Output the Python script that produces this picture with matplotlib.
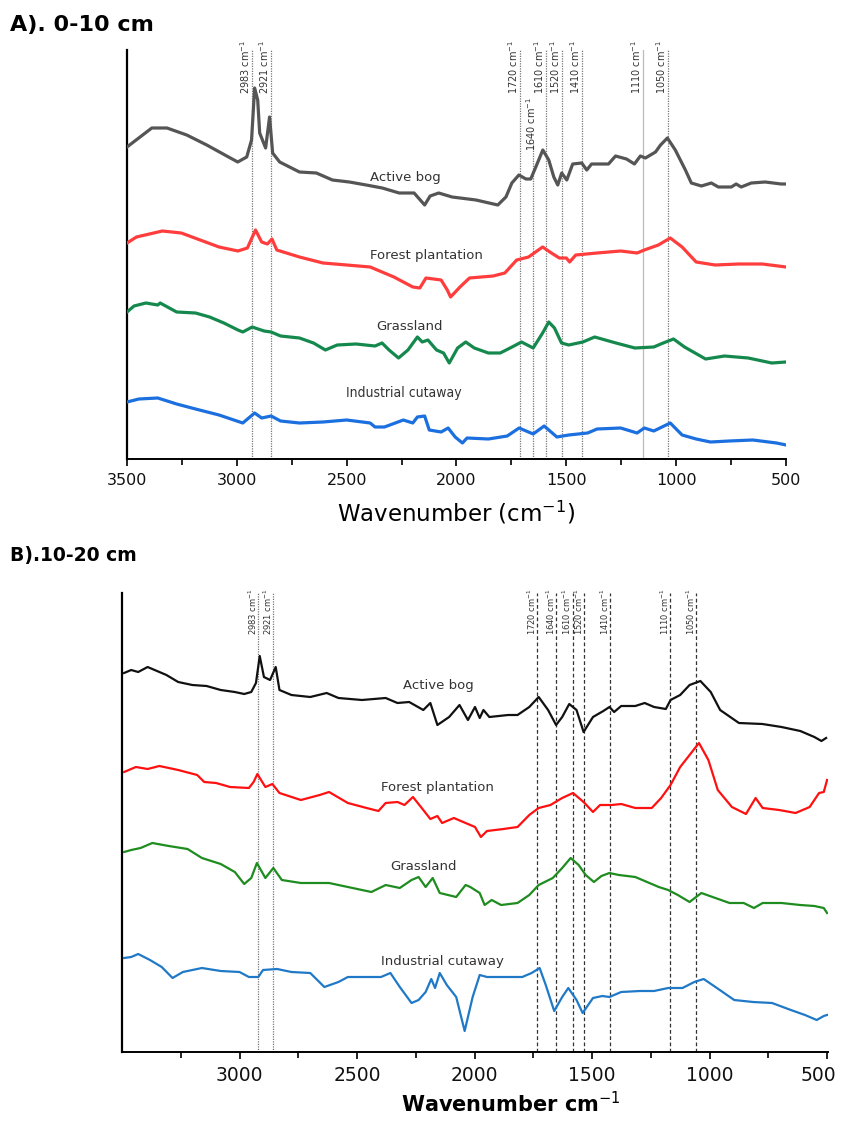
"""
plot.py
FTIR spectra of peat soils under four land uses, two depths (0-10 cm, 10-20 cm).
Curves are offset vertically; dotted/dashed guides mark the assigned bands.
"""

import matplotlib
matplotlib.use('Agg')
import matplotlib.pyplot as plt
from matplotlib.transforms import blended_transform_factory, ScaledTranslation

plt.rcParams['font.family'] = ['DejaVu Sans']
plt.rcParams['mathtext.fontset'] = 'dejavusans'

# ── Data: panel A (0-10 cm), offset absorbance (a.u.) ───────────────────────

A_BOG_WN = [3500, 3387, 3318, 3228, 3137, 3046, 2996, 2955, 2933, 2919, 2905, 2896,
            2869, 2851, 2837, 2805, 2715, 2638, 2565, 2488, 2411, 2338, 2261, 2193,
            2145, 2120, 2081, 2020, 1911, 1812, 1775, 1748, 1716, 1684, 1662, 1639,
            1607, 1580, 1557, 1539, 1521, 1498, 1471, 1430, 1407, 1385, 1308, 1276,
            1226, 1190, 1163, 1140, 1094, 1071, 1040, 1004, 958, 931, 885, 840, 808,
            749, 727, 704, 658, 595, 522, 500]
A_BOG_Y = [3.12, 3.31, 3.31, 3.24, 3.14, 3.03, 2.97, 3.02, 3.19, 3.71, 3.59, 3.26,
           3.11, 3.42, 3.06, 2.97, 2.87, 2.86, 2.79, 2.77, 2.74, 2.71, 2.66, 2.66,
           2.54, 2.63, 2.66, 2.62, 2.59, 2.54, 2.62, 2.76, 2.84, 2.80, 2.80, 2.92,
           3.09, 2.99, 2.82, 2.74, 2.86, 2.79, 2.95, 2.96, 2.89, 2.95, 2.95, 3.03,
           3.00, 2.95, 3.03, 3.01, 3.07, 3.14, 3.21, 3.09, 2.89, 2.76, 2.73, 2.76, 2.72,
           2.72, 2.75, 2.72, 2.76, 2.77, 2.75, 2.75]

A_FOREST_WN = [3500, 3457, 3339, 3253, 3167, 3081, 2995, 2952, 2915, 2887, 2861, 2840,
               2818, 2715, 2608, 2500, 2393, 2285, 2199, 2167, 2139, 2070, 2042, 2027,
               1984, 1941, 1833, 1780, 1726, 1672, 1608, 1575, 1532, 1500, 1485, 1457,
               1360, 1253, 1178, 1145, 1081, 1027, 973, 909, 823, 715, 608, 500]
A_FOREST_Y = [2.16, 2.22, 2.28, 2.26, 2.19, 2.12, 2.08, 2.11, 2.29, 2.17, 2.15, 2.20,
              2.09, 2.02, 1.96, 1.94, 1.92, 1.82, 1.72, 1.71, 1.81, 1.79, 1.69, 1.62,
              1.72, 1.81, 1.83, 1.86, 1.99, 2.02, 2.12, 2.07, 2.01, 2.01, 1.97, 2.04,
              2.06, 2.08, 2.06, 2.09, 2.14, 2.21, 2.12, 1.97, 1.94, 1.95, 1.95, 1.92]

A_GRASS_WN = [3500, 3468, 3414, 3360, 3349, 3274, 3188, 3124, 3059, 2995, 2973, 2930,
              2876, 2844, 2801, 2715, 2651, 2597, 2543, 2457, 2371, 2339, 2307, 2264,
              2221, 2178, 2156, 2130, 2091, 2059, 2033, 1995, 1958, 1919, 1855, 1801,
              1747, 1704, 1651, 1608, 1580, 1554, 1522, 1489, 1425, 1371, 1274, 1188,
              1102, 1059, 1012, 962, 866, 780, 672, 565, 500]
A_GRASS_Y = [1.47, 1.53, 1.56, 1.54, 1.56, 1.47, 1.46, 1.42, 1.36, 1.29, 1.27, 1.32,
             1.28, 1.27, 1.23, 1.21, 1.16, 1.09, 1.14, 1.15, 1.13, 1.16, 1.09, 1.01,
             1.09, 1.22, 1.17, 1.19, 1.09, 1.06, 0.96, 1.11, 1.17, 1.11, 1.06, 1.06,
             1.12, 1.17, 1.11, 1.26, 1.37, 1.31, 1.16, 1.14, 1.17, 1.22, 1.16, 1.11,
             1.12, 1.16, 1.20, 1.12, 1.00, 1.03, 1.01, 0.96, 0.97]

A_CUT_WN = [3500, 3446, 3360, 3274, 3188, 3081, 2973, 2919, 2887, 2844, 2801, 2715,
            2608, 2500, 2393, 2371, 2328, 2242, 2199, 2178, 2145, 2124, 2070, 2038,
            2006, 1973, 1952, 1855, 1769, 1715, 1651, 1601, 1543, 1489, 1403, 1360,
            1253, 1178, 1145, 1102, 1027, 973, 909, 844, 758, 651, 543, 500]
A_CUT_Y = [0.57, 0.60, 0.61, 0.55, 0.50, 0.44, 0.36, 0.46, 0.41, 0.43, 0.38, 0.36,
           0.37, 0.39, 0.36, 0.32, 0.32, 0.39, 0.36, 0.42, 0.43, 0.29, 0.27, 0.31,
           0.22, 0.16, 0.21, 0.20, 0.23, 0.31, 0.25, 0.33, 0.22, 0.24, 0.26, 0.30,
           0.31, 0.26, 0.31, 0.28, 0.36, 0.24, 0.20, 0.17, 0.18, 0.19, 0.16, 0.14]

# ── Data: panel B (10-20 cm) ─────────────────────────────────────────────────

B_BOG_WN = [3491, 3461, 3431, 3391, 3361, 3311, 3261, 3201, 3140, 3080, 3020, 2980,
            2950, 2930, 2914, 2896, 2870, 2846, 2830, 2779, 2699, 2629, 2579, 2479,
            2378, 2328, 2278, 2218, 2188, 2158, 2108, 2064, 2028, 1998, 1978, 1962,
            1937, 1857, 1817, 1767, 1727, 1687, 1653, 1627, 1597, 1566, 1536, 1496,
            1452, 1426, 1406, 1376, 1316, 1276, 1236, 1186, 1166, 1125, 1085, 1039,
            995, 955, 875, 775, 694, 614, 554, 524, 504]
B_BOG_Y = [3.97, 4.00, 3.98, 4.03, 4.00, 3.95, 3.88, 3.85, 3.84, 3.80, 3.78, 3.76,
           3.78, 3.87, 4.14, 3.93, 3.90, 4.03, 3.80, 3.75, 3.73, 3.77, 3.72, 3.70,
           3.72, 3.67, 3.68, 3.60, 3.67, 3.45, 3.53, 3.65, 3.50, 3.63, 3.52, 3.60,
           3.53, 3.55, 3.55, 3.63, 3.73, 3.60, 3.45, 3.53, 3.66, 3.60, 3.38, 3.53,
           3.59, 3.63, 3.58, 3.64, 3.64, 3.67, 3.63, 3.61, 3.70, 3.75, 3.85, 3.89,
           3.78, 3.60, 3.47, 3.46, 3.43, 3.39, 3.33, 3.29, 3.32]

B_FOREST_WN = [3491, 3441, 3391, 3341, 3261, 3180, 3150, 3100, 3040, 2960, 2940, 2924,
               2890, 2860, 2830, 2739, 2659, 2619, 2539, 2459, 2409, 2378, 2328, 2298,
               2262, 2228, 2188, 2158, 2138, 2088, 2038, 1998, 1973, 1947, 1877, 1817,
               1767, 1727, 1677, 1627, 1581, 1536, 1496, 1466, 1416, 1376, 1316, 1246,
               1206, 1166, 1125, 1085, 1045, 1005, 965, 905, 845, 804, 774, 704, 634,
               574, 534, 514, 500]
B_FOREST_Y = [2.98, 3.03, 3.01, 3.04, 3.00, 2.95, 2.88, 2.87, 2.83, 2.82, 2.88, 2.96,
              2.83, 2.86, 2.77, 2.70, 2.75, 2.78, 2.67, 2.62, 2.59, 2.67, 2.68, 2.65,
              2.73, 2.63, 2.51, 2.54, 2.47, 2.52, 2.47, 2.43, 2.33, 2.39, 2.41, 2.43,
              2.55, 2.62, 2.65, 2.72, 2.77, 2.68, 2.58, 2.65, 2.65, 2.66, 2.62, 2.62,
              2.72, 2.85, 3.03, 3.15, 3.27, 3.10, 2.80, 2.63, 2.56, 2.72, 2.62, 2.60, 2.57,
              2.63, 2.77, 2.78, 2.90]

B_GRASS_WN = [3491, 3461, 3421, 3371, 3301, 3221, 3160, 3080, 3020, 2980, 2950, 2926,
              2890, 2856, 2820, 2739, 2619, 2539, 2439, 2378, 2318, 2268, 2238, 2208,
              2178, 2148, 2078, 2038, 2018, 1978, 1957, 1927, 1887, 1817, 1767, 1727,
              1667, 1627, 1591, 1557, 1527, 1492, 1460, 1426, 1386, 1316, 1266, 1216,
              1176, 1135, 1085, 1035, 975, 915, 855, 811, 774, 694, 614, 554, 514, 500]
B_GRASS_Y = [2.18, 2.20, 2.22, 2.27, 2.24, 2.21, 2.12, 2.06, 1.98, 1.86, 1.92, 2.07,
             1.92, 2.02, 1.90, 1.87, 1.87, 1.83, 1.78, 1.85, 1.82, 1.90, 1.93, 1.83,
             1.92, 1.77, 1.73, 1.85, 1.83, 1.77, 1.65, 1.70, 1.65, 1.67, 1.75, 1.85,
             1.92, 2.02, 2.12, 2.05, 1.95, 1.88, 1.94, 1.97, 1.95, 1.93, 1.88, 1.83,
             1.80, 1.75, 1.68, 1.77, 1.72, 1.67, 1.67, 1.62, 1.67, 1.67, 1.65, 1.64, 1.62, 1.57]

B_CUT_WN = [3491, 3461, 3431, 3381, 3331, 3285, 3241, 3160, 3080, 3000, 2960, 2920,
            2900, 2840, 2779, 2699, 2639, 2579, 2539, 2459, 2398, 2358, 2318, 2268,
            2238, 2208, 2184, 2168, 2148, 2118, 2078, 2042, 2008, 1978, 1947, 1877,
            1797, 1757, 1723, 1697, 1661, 1627, 1601, 1566, 1540, 1496, 1456, 1426,
            1376, 1296, 1236, 1176, 1115, 1065, 1025, 975, 895, 815, 734, 654, 594,
            544, 514, 500]
B_CUT_Y = [1.12, 1.13, 1.16, 1.10, 1.03, 0.92, 0.98, 1.02, 0.99, 0.98, 0.93, 0.93,
           1.00, 1.01, 0.98, 0.97, 0.83, 0.88, 0.93, 0.93, 0.93, 0.97, 0.83, 0.67,
           0.70, 0.78, 0.91, 0.82, 0.97, 0.85, 0.73, 0.39, 0.73, 0.95, 0.93, 0.93,
           0.93, 0.97, 1.02, 0.85, 0.59, 0.73, 0.82, 0.70, 0.57, 0.72, 0.74, 0.73,
           0.78, 0.79, 0.79, 0.82, 0.82, 0.88, 0.91, 0.83, 0.70, 0.68, 0.67, 0.60, 0.55,
           0.50, 0.54, 0.55]

SITES = ['Active bog', 'Forest plantation', 'Grassland', 'Industrial cutaway']

# label anchor (wavenumber, offset absorbance) for each curve name
A_LABEL_WN = [2235, 2138, 2215, 2238]
A_LABEL_Y = [2.81, 2.03, 1.33, 0.66]
B_LABEL_WN = [2155, 2158, 2218, 2138]
B_LABEL_Y = [3.84, 2.82, 2.04, 1.08]

# band guides: where they are drawn, and the band they are labelled with
PEAK_TEXT = ['2983', '2921', '1720', '1640', '1610', '1520', '1410', '1110', '1050']
A_PEAK_WN = [2930, 2843, 1710, 1650, 1592, 1521, 1430, 1152, 1038]
B_PEAK_WN = [2920, 2856, 1733, 1653, 1583, 1534, 1424, 1169, 1057]

# ── Styles ───────────────────────────────────────────────────────────────────

A_COLOURS = ['#555555', '#FF3D3D', '#15894D', '#1B6FDE']
B_COLOURS = ['#111111', '#FF1010', '#1E8C1E', '#2079C7']

fig = plt.figure(figsize=(8.41, 11.21), dpi=100)
W, H = 841.0, 1121.0


def px_axes(left, top, right, bottom):
    return fig.add_axes([left / W, 1 - bottom / H, (right - left) / W, (bottom - top) / H])


def style_axis(ax, xmin, xmax, ylim, tick_size):
    ax.set_xlim(xmin, xmax)
    ax.set_ylim(*ylim)
    ax.set_xticks(range(3500, 499, -500))
    ax.set_xticks(range(3250, 600, -500), minor=True)
    ax.set_yticks([])
    for side in ['top', 'right']:
        ax.spines[side].set_visible(False)
    ax.spines['left'].set_linewidth(1.6)
    ax.spines['bottom'].set_linewidth(1.4)
    ax.tick_params(axis='x', which='major', direction='out', length=5, width=1.3,
                   labelsize=tick_size, pad=5, colors='#111111')
    ax.tick_params(axis='x', which='minor', direction='out', length=4, width=1.2)


# ── Panel A ──────────────────────────────────────────────────────────────────

axA = px_axes(127, 50, 786, 459)
style_axis(axA, 3500, 500, (0, 4.09), 11.5)

trA = blended_transform_factory(axA.transData, axA.transAxes)
for wn, txt in zip(A_PEAK_WN, PEAK_TEXT):
    top = 0.773 if txt == '1640' else 1.0
    colour, ls = ('#BBBBBB', '-') if txt == '1110' else ('#777777', (0, (1, 1)))
    axA.plot([wn, wn], [0, top], transform=trA, color=colour, lw=0.9, ls=ls, zorder=1)
    ytxt = 0.885 if txt == '1640' else 1.025
    xoff = 22 if txt == '1640' else 0
    axA.text(wn - xoff, ytxt, txt + r' cm$^{-1}$', transform=trA, rotation=90,
             ha='right', va='top', fontsize=7, color='#333333', clip_on=False)

for wn, y, c in zip([A_BOG_WN, A_FOREST_WN, A_GRASS_WN, A_CUT_WN],
                    [A_BOG_Y, A_FOREST_Y, A_GRASS_Y, A_CUT_Y], A_COLOURS):
    axA.plot(wn, y, color=c, lw=2.3, solid_joinstyle='round', zorder=3)

for name, wn, y in zip(SITES, A_LABEL_WN, A_LABEL_Y):
    if name == 'Industrial cutaway':
        axA.text(wn, y, name, ha='center', va='center', fontsize=10,
                 color='#333333', fontstretch='condensed')
    else:
        axA.text(wn, y, name, ha='center', va='center', fontsize=9.5, color='#333333')

fig.text(10 / W, 1 - 25 / H, 'A). 0-10 cm', fontsize=16, fontweight='bold',
         ha='left', va='center')
fig.text(456 / W, 1 - 513 / H, r'Wavenumber (cm$^{-1}$)', fontsize=16.5,
         ha='center', va='center')

# ── Panel B ──────────────────────────────────────────────────────────────────

axB = px_axes(122, 593, 828, 1052)
style_axis(axB, 3490, 496, (0.18, 4.77), 13.5)
axB.set_xticks(range(3000, 499, -500))

# the last label sits on the figure edge, nudge it inwards
last = axB.get_xticklabels()[-1]
last.set_transform(last.get_transform() + ScaledTranslation(-6 / 72, 0, fig.dpi_scale_trans))

trB = blended_transform_factory(axB.transData, axB.transAxes)
for wn, txt in zip(B_PEAK_WN, PEAK_TEXT):
    if txt in ('2983', '2921'):
        colour, ls = '#777777', (0, (1, 1))
    else:
        colour, ls = '#333333', (0, (3, 2))
    axB.plot([wn, wn], [0, 1.0], transform=trB, color=colour, lw=0.9, ls=ls, zorder=1)
    axB.text(wn - 4, 1.011, txt + r' cm$^{-1}$', transform=trB, rotation=90,
             ha='right', va='top', fontsize=6, color='#333333', clip_on=False)

for wn, y, c in zip([B_BOG_WN, B_FOREST_WN, B_GRASS_WN, B_CUT_WN],
                    [B_BOG_Y, B_FOREST_Y, B_GRASS_Y, B_CUT_Y], B_COLOURS):
    axB.plot(wn, y, color=c, lw=1.6, solid_joinstyle='round', zorder=3)

for name, wn, y in zip(SITES, B_LABEL_WN, B_LABEL_Y):
    axB.text(wn, y, name, ha='center', va='center', fontsize=9.5, color='#333333')

fig.text(10 / W, 1 - 556 / H, 'B).10-20 cm', fontsize=13.5, fontweight='bold',
         ha='left', va='center')
fig.text(511 / W, 1 - 1104 / H, r'Wavenumber cm$^{-1}$', fontsize=15,
         fontweight='bold', ha='center', va='center')

fig.savefig('out.png', dpi=100)
